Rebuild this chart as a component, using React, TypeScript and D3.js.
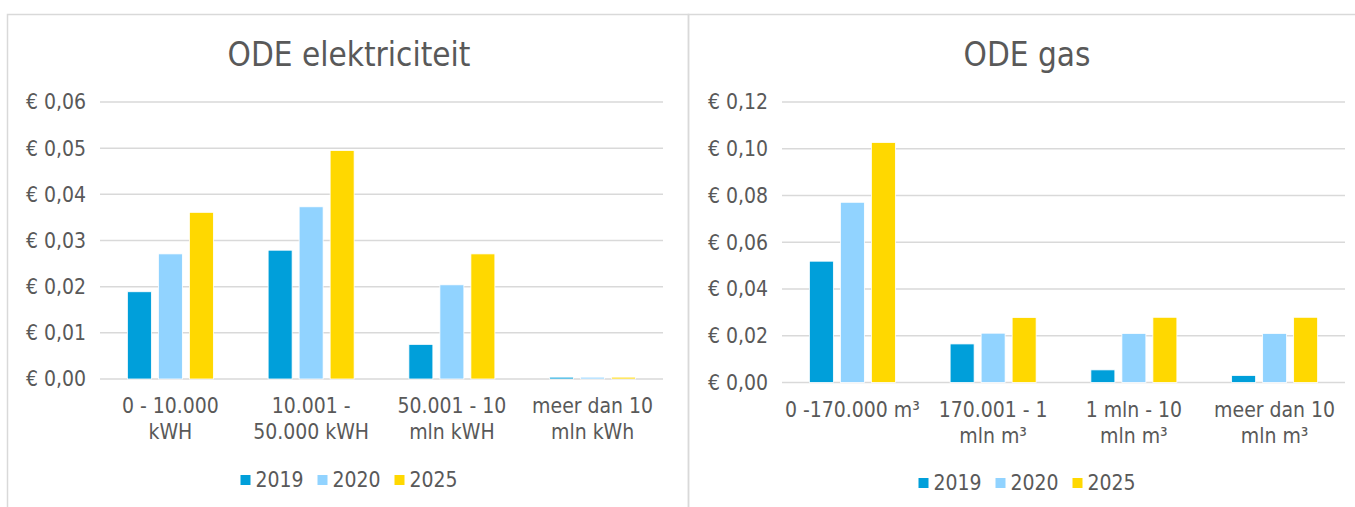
import React from 'react';
import * as d3 from 'd3';

const series = ['2019', '2020', '2025'];
const seriesColors = ['#009FDA', '#91D3FF', '#FFD800'];

const elecCategories = [['0 - 10.000', 'kWH'], ['10.001 -', '50.000 kWH'], ['50.001 - 10', 'mln kWH'], ['meer dan 10', 'mln kWh']];
const elec2019 = [0.0189, 0.0279, 0.0075, 0.0004];
const elec2020 = [0.0271, 0.0373, 0.0204, 0.0004];
const elec2025 = [0.0361, 0.0495, 0.0271, 0.0004];
const elecTicks = [0, 0.01, 0.02, 0.03, 0.04, 0.05, 0.06];

const gasCategories = [['0 -170.000 m³'], ['170.001 - 1', 'mln m³'], ['1 mln - 10', 'mln m³'], ['meer dan 10', 'mln m³']];
const gas2019 = [0.0519, 0.0165, 0.0054, 0.003];
const gas2020 = [0.0771, 0.0211, 0.021, 0.021];
const gas2025 = [0.1027, 0.0278, 0.0279, 0.0279];
const gasTicks = [0, 0.02, 0.04, 0.06, 0.08, 0.1, 0.12];

const FONT = '"DejaVu Sans Condensed", "DejaVu Sans", sans-serif';
const TEXT = '#595959';
const GRID = '#d9d9d9';

const fmt = (v: number) => '€ ' + v.toFixed(2).replace('.', ',');

function Panel(props: {
  title: string; cats: string[][]; values: number[][]; ticks: number[];
  left: number; right: number; top: number; zero: number;
  labelX: number; titleX: number; catY: number; legendY: number;
}) {
  const { title, cats, values, ticks, left, right, top, zero, labelX, titleX, catY, legendY } = props;
  const y = d3.scaleLinear().domain([0, ticks[ticks.length - 1]]).range([zero, top]);
  const x0 = d3.scaleBand().domain(cats.map((_, i) => String(i))).range([left, right]).padding(0);
  const groupW = x0.bandwidth() * 0.611;
  const x1 = d3.scaleBand().domain(series).range([0, groupW]).paddingInner(0.226);
  const legendItemW = 77;
  const legendStart = titleX - (legendItemW * series.length - 14) / 2;

  return (
    <g>
      <text x={titleX} y={66} textAnchor="middle" fontSize={33} fill={TEXT}>{title}</text>
      {ticks.map(t => (
        <g key={t}>
          <line x1={left} x2={right} y1={y(t)} y2={y(t)} stroke={GRID} strokeWidth={1.5} />
          <text x={labelX} y={y(t)} dy="0.35em" textAnchor="end" fontSize={21} fill={TEXT}>{fmt(t)}</text>
        </g>
      ))}
      {cats.map((c, i) => {
        const gx = (x0(String(i)) as number) + (x0.bandwidth() - groupW) / 2;
        return (
          <g key={i}>
            {series.map((s, k) => {
              const v = values[k][i];
              return (
                <rect key={s} x={gx + (x1(s) as number)} y={y(v)} width={x1.bandwidth()}
                  height={zero - y(v)} fill={seriesColors[k]} stroke="#fff" strokeWidth={0.8} />
              );
            })}
            {c.map((line, j) => (
              <text key={j} x={(x0(String(i)) as number) + x0.bandwidth() / 2} y={catY + j * 26}
                textAnchor="middle" fontSize={21} fill={TEXT}>{line}</text>
            ))}
          </g>
        );
      })}
      {series.map((s, k) => (
        <g key={s} transform={`translate(${legendStart + k * legendItemW},${legendY})`}>
          <rect x={0} y={-12} width={10} height={10} fill={seriesColors[k]} />
          <text x={15} y={0} fontSize={21} fill={TEXT}>{s}</text>
        </g>
      ))}
    </g>
  );
}

export default function App() {
  return (
    <svg width={1355} height={507} style={{ position: 'absolute', left: 0, top: 0, fontFamily: FONT }}>
      <rect x={0} y={0} width={1355} height={507} fill="#fff" />
      <rect x={7.5} y={14.5} width={681} height={520} fill="none" stroke={GRID} strokeWidth={1.5} />
      <rect x={688.5} y={14.5} width={700} height={520} fill="none" stroke={GRID} strokeWidth={1.5} />
      <Panel title="ODE elektriciteit" cats={elecCategories} values={[elec2019, elec2020, elec2025]}
        ticks={elecTicks} left={100} right={663} top={102} zero={379} labelX={86} titleX={349}
        catY={413} legendY={487} />
      <Panel title="ODE gas" cats={gasCategories} values={[gas2019, gas2020, gas2025]}
        ticks={gasTicks} left={782} right={1345} top={102} zero={382.5} labelX={768} titleX={1027}
        catY={417} legendY={490} />
    </svg>
  );
}
